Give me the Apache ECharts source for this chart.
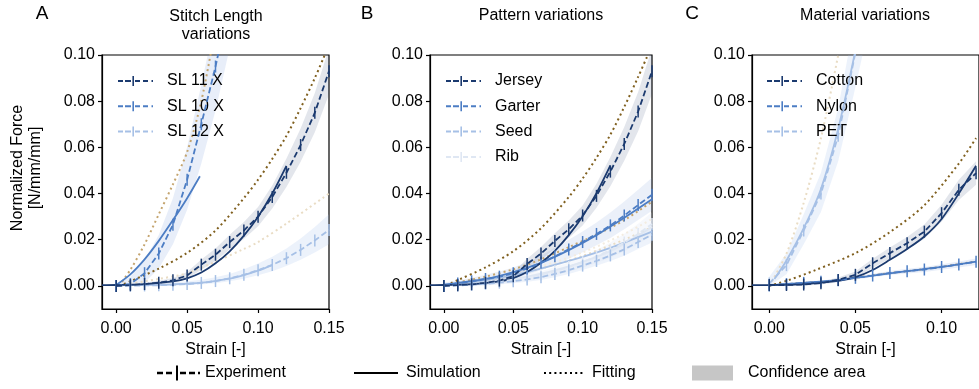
<!DOCTYPE html>
<html>
<head>
<meta charset="utf-8">
<script src="https://cdn.jsdelivr.net/npm/echarts@6/dist/echarts.min.js"></script>
<style>
html,body{margin:0;padding:0;background:#fff;}
#chart{width:979px;height:389px;}
</style>
</head>
<body>
<div id="chart"></div>
<script>
// ---------- axes ----------
const strainTicksAB = [0, 0.05, 0.10, 0.15];
const strainTicksC = [0, 0.05, 0.10];
const forceTicks = [0, 0.02, 0.04, 0.06, 0.08, 0.10];

// ---------- Panel A : Stitch length ----------
const expStrain = [0,0.01,0.02,0.03,0.04,0.05,0.06,0.07,0.08,0.09,0.10,0.11,0.12,0.13,0.14,0.15];
const sl11Exp = [0,0.0003,0.0008,0.0014,0.0024,0.0045,0.0092,0.0135,0.0190,0.0240,0.0300,0.0385,0.0490,0.0610,0.0750,0.0930];
const sl11Lo  = [0,0,0.0002,0.0006,0.0014,0.0030,0.0070,0.0108,0.0158,0.0203,0.0258,0.0335,0.0428,0.0538,0.0665,0.0830];
const sl11Hi  = [0.0006,0.0008,0.0014,0.0022,0.0034,0.0060,0.0114,0.0162,0.0222,0.0277,0.0342,0.0435,0.0552,0.0682,0.0835,0.1030];
const sl11SimX = [-0.01,0,0.02,0.04,0.05,0.06,0.07,0.08,0.09,0.10,0.11,0.12];
const sl11Sim  = [0.0003,0.0004,0.0008,0.0020,0.0033,0.0058,0.0098,0.0150,0.0218,0.0300,0.0400,0.0520];
const sl11FitX = [0.002,0.01,0.03,0.05,0.07,0.09,0.10,0.11,0.12,0.13,0.14,0.147];
const sl11Fit  = [0,0.0020,0.0075,0.0143,0.0240,0.0380,0.0460,0.0550,0.0650,0.0770,0.0900,0.1000];

const sl10ExpX = [0,0.01,0.02,0.03,0.04,0.05,0.06,0.07,0.08];
const sl10Exp  = [0,0.0008,0.0055,0.0140,0.0265,0.0460,0.0700,0.0950,0.1230];
const sl10Lo   = [0,0,0.0015,0.0075,0.0180,0.0330,0.0530,0.0760,0.1030];
const sl10Hi   = [0.0010,0.0040,0.0110,0.0220,0.0380,0.0600,0.0870,0.1160,0.1480];
const sl10SimX = [0,0.01,0.02,0.03,0.04,0.05,0.059];
const sl10Sim  = [0.0004,0.0050,0.0115,0.0195,0.0285,0.0380,0.0475];
const sl10FitX = [0.002,0.01,0.02,0.03,0.04,0.05,0.06,0.07];
const sl10Fit  = [0,0.0070,0.0180,0.0310,0.0440,0.0580,0.0800,0.1120];

const sl12Exp = [0,0.0001,0.0002,0.0003,0.0005,0.0008,0.0013,0.0021,0.0033,0.0048,0.0068,0.0091,0.0120,0.0156,0.0197,0.0242];
const sl12Lo  = [0,0,0,0,0.0001,0.0003,0.0006,0.0011,0.0020,0.0031,0.0046,0.0064,0.0086,0.0113,0.0145,0.0180];
const sl12Hi  = [0.0008,0.0009,0.0011,0.0013,0.0016,0.0020,0.0027,0.0037,0.0052,0.0072,0.0097,0.0126,0.0162,0.0205,0.0255,0.0310];
const sl12SimX = [0,0.02,0.04,0.06,0.08,0.09,0.10,0.11];
const sl12Sim  = [0.0002,0.0004,0.0007,0.0014,0.0032,0.0047,0.0066,0.0090];
const sl12FitX = [0.01,0.03,0.05,0.07,0.09,0.10,0.12,0.15];
const sl12Fit  = [0.0010,0.0030,0.0055,0.0105,0.0160,0.0190,0.0270,0.0400];

// ---------- Panel B : Patterns ----------
const jerseyExp = [0,0.0003,0.0007,0.0013,0.0023,0.0042,0.0095,0.0140,0.0195,0.0245,0.0305,0.0390,0.0495,0.0615,0.0755,0.0930];
const jerseyLo  = [0,0,0.0002,0.0006,0.0013,0.0028,0.0072,0.0112,0.0162,0.0207,0.0262,0.0338,0.0432,0.0542,0.0670,0.0832];
const jerseyHi  = [0.0006,0.0008,0.0013,0.0021,0.0033,0.0058,0.0118,0.0168,0.0228,0.0283,0.0348,0.0442,0.0558,0.0688,0.0840,0.1030];
const jerseySimX = [-0.01,0,0.02,0.04,0.05,0.06,0.07,0.08,0.09,0.10,0.11,0.12];
const jerseySim  = [0.0003,0.0004,0.0008,0.0020,0.0034,0.0060,0.0100,0.0152,0.0220,0.0302,0.0402,0.0522];
const jerseyFitX = [0.005,0.01,0.03,0.05,0.07,0.09,0.10,0.11,0.12,0.13,0.14,0.147];
const jerseyFit  = [0.0012,0.0025,0.0080,0.0150,0.0250,0.0385,0.0465,0.0555,0.0655,0.0775,0.0905,0.1000];

const garterExp = [0,0.0010,0.0020,0.0030,0.0040,0.0055,0.0075,0.0100,0.0128,0.0158,0.0190,0.0225,0.0262,0.0305,0.0350,0.0395];
const garterLo  = [0,0,0.0005,0.0012,0.0020,0.0032,0.0048,0.0068,0.0092,0.0118,0.0146,0.0176,0.0208,0.0245,0.0285,0.0325];
const garterHi  = [0.0015,0.0022,0.0035,0.0048,0.0062,0.0080,0.0103,0.0132,0.0165,0.0200,0.0236,0.0275,0.0318,0.0366,0.0416,0.0468];
const garterSimX = [0,0.03,0.05,0.07,0.09,0.11,0.13,0.15];
const garterSim  = [0.0005,0.0030,0.0060,0.0100,0.0155,0.0220,0.0295,0.0375];
const garterFitX = [0.01,0.03,0.05,0.07,0.09,0.11,0.13,0.15];
const garterFit  = [0.0015,0.0040,0.0072,0.0115,0.0168,0.0222,0.0285,0.0365];

const seedExp = [0,0.0002,0.0005,0.0009,0.0014,0.0020,0.0028,0.0038,0.0052,0.0068,0.0088,0.0108,0.0132,0.0158,0.0190,0.0222];
const seedLo  = [0,0,0,0.0002,0.0006,0.0011,0.0018,0.0026,0.0038,0.0052,0.0069,0.0087,0.0108,0.0131,0.0160,0.0188];
const seedHi  = [0.0010,0.0012,0.0015,0.0019,0.0024,0.0031,0.0040,0.0052,0.0068,0.0086,0.0108,0.0131,0.0158,0.0188,0.0224,0.0262];
const seedSimX = [0,0.03,0.06,0.09,0.12,0.15];
const seedSim  = [0.0003,0.0025,0.0060,0.0108,0.0165,0.0235];
const seedFitX = [0.01,0.04,0.07,0.10,0.13,0.15];
const seedFit  = [0.0010,0.0035,0.0075,0.0130,0.0200,0.0255];

const ribExp = [0,0.0003,0.0007,0.0012,0.0019,0.0027,0.0037,0.0049,0.0064,0.0082,0.0103,0.0127,0.0155,0.0188,0.0225,0.0268];
const ribLo  = [0,0,0.0002,0.0005,0.0010,0.0016,0.0024,0.0034,0.0046,0.0061,0.0079,0.0099,0.0122,0.0150,0.0181,0.0217];
const ribHi  = [0.0009,0.0011,0.0015,0.0020,0.0028,0.0038,0.0050,0.0064,0.0082,0.0103,0.0127,0.0155,0.0188,0.0226,0.0269,0.0319];
const ribSimX = [0,0.03,0.06,0.09,0.12,0.15];
const ribSim  = [0.0003,0.0016,0.0040,0.0085,0.0150,0.0255];
const ribFitX = [0.01,0.04,0.07,0.10,0.13,0.15];
const ribFit  = [0.0012,0.0040,0.0085,0.0145,0.0225,0.0290];

// ---------- Panel C : Materials ----------
const matStrain = [0,0.01,0.02,0.03,0.04,0.05,0.06,0.07,0.08,0.09,0.10,0.11,0.12];
const cottonExp = [0.0004,0.0004,0.0006,0.0012,0.0026,0.0048,0.0098,0.0142,0.0185,0.0235,0.0315,0.0416,0.0488];
const cottonLo  = [0,0,0.0001,0.0006,0.0016,0.0034,0.0078,0.0118,0.0158,0.0204,0.0278,0.0372,0.0438];
const cottonHi  = [0.0010,0.0010,0.0012,0.0019,0.0036,0.0062,0.0118,0.0166,0.0212,0.0266,0.0352,0.0460,0.0540];
const cottonSimX = [-0.01,0,0.02,0.04,0.05,0.06,0.07,0.08,0.09,0.10,0.11,0.12];
const cottonSim  = [0.0003,0.0004,0.0008,0.0022,0.0038,0.0069,0.0113,0.0160,0.0214,0.0290,0.0400,0.0520];
const cottonFitX = [0,0.01,0.027,0.05,0.07,0.09,0.11,0.12];
const cottonFit  = [0,0.0022,0.0069,0.0142,0.0233,0.0350,0.0530,0.0640];

const nylonExp = [0.0002,0.0008,0.0013,0.0018,0.0025,0.0035,0.0045,0.0056,0.0064,0.0071,0.0082,0.0093,0.0105];
const nylonLo  = [0,0.0004,0.0009,0.0013,0.0019,0.0028,0.0037,0.0047,0.0054,0.0060,0.0070,0.0080,0.0091];
const nylonHi  = [0.0006,0.0012,0.0017,0.0023,0.0031,0.0042,0.0053,0.0065,0.0074,0.0082,0.0094,0.0106,0.0119];
const nylonSimX = [0,0.02,0.04,0.06,0.08,0.10,0.12];
const nylonSim  = [0.0002,0.0013,0.0025,0.0045,0.0064,0.0082,0.0105];
const nylonFitX = [0,0.02,0.04,0.06,0.08,0.10,0.12];
const nylonFit  = [0.0002,0.0013,0.0025,0.0046,0.0064,0.0083,0.0106];

const petExpX = [0,0.01,0.02,0.03,0.04,0.05,0.06];
const petExp  = [0.0010,0.0090,0.0240,0.0400,0.0650,0.1010,0.1400];
const petLo   = [0,0.0050,0.0180,0.0320,0.0540,0.0860,0.1200];
const petHi   = [0.0040,0.0140,0.0310,0.0490,0.0770,0.1170,0.1600];
const petSimX = [0.003,0.01,0.02,0.03,0.04,0.05,0.06];
const petSim  = [0.0030,0.0110,0.0250,0.0420,0.0680,0.1020,0.1400];
const petFitX = [0,0.01,0.02,0.03,0.04,0.05];
const petFit  = [0,0.0140,0.0360,0.0640,0.1000,0.1400];

// ---------- style constants ----------
const FONT = 'Liberation Sans, Arial, Helvetica, sans-serif';
const FS = 16;
const DARK = '#1b3a6f', MID = '#4c7dc4', LIGHT = '#a6c0e6', PALE = '#dfe7f3';
const FIT1 = '#80601f', FIT2 = '#c4a46e', FIT3 = '#e9dcc4', FIT4 = '#f3ece0';

function pairs(xs, ys) { return xs.map((x, i) => [x, ys[i]]); }
function bandRows(xs, lo, hi) { return xs.map((x, i) => [x, lo[i], hi[i]]); }

const panels = [
  { grid: 0, entries: [
    { name: 'SL 11 X', color: DARK, fit: FIT1, band: 'rgba(40,60,110,0.13)', ex: expStrain, ey: sl11Exp, lo: sl11Lo, hi: sl11Hi, sx: sl11SimX, sy: sl11Sim, fx: sl11FitX, fy: sl11Fit },
    { name: 'SL 10 X', color: MID, fit: FIT2, band: 'rgba(110,150,215,0.16)', ex: sl10ExpX, ey: sl10Exp, lo: sl10Lo, hi: sl10Hi, sx: sl10SimX, sy: sl10Sim, fx: sl10FitX, fy: sl10Fit },
    { name: 'SL 12 X', color: LIGHT, fit: FIT3, band: 'rgba(160,190,235,0.2)', ex: expStrain, ey: sl12Exp, lo: sl12Lo, hi: sl12Hi, sx: sl12SimX, sy: sl12Sim, fx: sl12FitX, fy: sl12Fit }
  ]},
  { grid: 1, entries: [
    { name: 'Jersey', color: DARK, fit: FIT1, band: 'rgba(40,60,110,0.13)', ex: expStrain, ey: jerseyExp, lo: jerseyLo, hi: jerseyHi, sx: jerseySimX, sy: jerseySim, fx: jerseyFitX, fy: jerseyFit },
    { name: 'Garter', color: MID, fit: FIT2, band: 'rgba(110,150,215,0.14)', ex: expStrain, ey: garterExp, lo: garterLo, hi: garterHi, sx: garterSimX, sy: garterSim, fx: garterFitX, fy: garterFit },
    { name: 'Seed', color: LIGHT, fit: FIT3, band: 'rgba(160,190,235,0.18)', ex: expStrain, ey: seedExp, lo: seedLo, hi: seedHi, sx: seedSimX, sy: seedSim, fx: seedFitX, fy: seedFit },
    { name: 'Rib', color: PALE, fit: FIT4, band: 'rgba(210,222,240,0.2)', ex: expStrain, ey: ribExp, lo: ribLo, hi: ribHi, sx: ribSimX, sy: ribSim, fx: ribFitX, fy: ribFit }
  ]},
  { grid: 2, entries: [
    { name: 'Cotton', color: DARK, fit: FIT1, band: 'rgba(40,60,110,0.13)', ex: matStrain, ey: cottonExp, lo: cottonLo, hi: cottonHi, sx: cottonSimX, sy: cottonSim, fx: cottonFitX, fy: cottonFit },
    { name: 'Nylon', color: MID, fit: FIT2, band: 'rgba(110,150,215,0.16)', ex: matStrain, ey: nylonExp, lo: nylonLo, hi: nylonHi, sx: nylonSimX, sy: nylonSim, fx: nylonFitX, fy: nylonFit },
    { name: 'PET', color: LIGHT, fit: FIT3, band: 'rgba(160,190,235,0.2)', ex: petExpX, ey: petExp, lo: petLo, hi: petHi, sx: petSimX, sy: petSim, fx: petFitX, fy: petFit }
  ]}
];

const grids = [
  { left: 102, top: 55, width: 227, height: 254 },
  { left: 430, top: 55, width: 222, height: 254 },
  { left: 752, top: 55, width: 230, height: 254 }
];
const xMax = [0.15, 0.15, 0.1217];
const xTicks = [strainTicksAB, strainTicksAB, strainTicksC];

const axisLineStyle = { color: '#000', width: 1.2 };
const xAxes = grids.map((g, i) => ({
  type: 'value', gridIndex: i, min: -0.01, max: xMax[i],
  name: 'Strain [-]', nameLocation: 'middle', nameGap: 33,
  nameTextStyle: { fontFamily: FONT, fontSize: FS, color: '#000' },
  axisLine: { show: true, onZero: false, lineStyle: axisLineStyle },
  axisTick: { show: true, length: 4, lineStyle: axisLineStyle, customValues: xTicks[i] },
  axisLabel: { show: true, margin: 12, fontFamily: FONT, fontSize: FS, color: '#000',
    customValues: xTicks[i], formatter: v => v.toFixed(2) },
  splitLine: { show: false }
}));
const yAxes = grids.map((g, i) => ({
  type: 'value', gridIndex: i, min: -0.01, max: 0.10,
  axisLine: { show: true, onZero: false, lineStyle: axisLineStyle },
  axisTick: { show: true, length: 4, lineStyle: axisLineStyle, customValues: forceTicks },
  axisLabel: { show: true, margin: 7, fontFamily: FONT, fontSize: FS, color: '#000',
    customValues: forceTicks, formatter: v => v.toFixed(2) },
  splitLine: { show: false }
}));

const EXP_ICON = 'path://M0,4h5v2h-5z M7,4h6v2h-6z M14.4,0h1.6v10h-1.6z M17,4h5v2h-5z M25,4h5v2h-5z M33.5,4h1.5v2h-1.5z';
const EXP_ICON_BIG = 'path://M0,6.3h6v2.4h-6z M9,6.3h6v2.4h-6z M19,0h2v15h-2z M23,6.3h6v2.4h-6z M32,6.3h6v2.4h-6z M41,6.3h2v2.4h-2z';

const series = [];
// confidence bands first
panels.forEach(p => p.entries.forEach(e => {
  series.push({
    type: 'custom', xAxisIndex: p.grid, yAxisIndex: p.grid, silent: true, z: 1,
    data: bandRows(e.ex, e.lo, e.hi),
    renderItem: (params, api) => {
      if (params.dataIndex !== 0) return null;
      const rows = bandRows(e.ex, e.lo, e.hi);
      const upper = rows.map(r => api.coord([r[0], r[2]]));
      const lower = rows.slice().reverse().map(r => api.coord([r[0], r[1]]));
      const cs = params.coordSys;
      return { type: 'polygon', shape: { points: upper.concat(lower) },
        style: { fill: e.band, stroke: null },
        clipPath: { type: 'rect', shape: { x: cs.x, y: cs.y, width: cs.width, height: cs.height } } };
    }
  });
}));
// fitting
panels.forEach(p => p.entries.slice().reverse().forEach(e => {
  series.push({ type: 'line', name: e.name + ' fit', xAxisIndex: p.grid, yAxisIndex: p.grid, z: 2,
    data: pairs(e.fx, e.fy), smooth: 0.3, symbol: 'none', silent: true,
    lineStyle: { color: e.fit, width: 2, type: [2, 3.2] } });
}));
// simulation
panels.forEach(p => p.entries.slice().reverse().forEach(e => {
  series.push({ type: 'line', name: e.name + ' sim', xAxisIndex: p.grid, yAxisIndex: p.grid, z: 3,
    data: pairs(e.sx, e.sy), smooth: 0.3, symbol: 'none', silent: true,
    lineStyle: { color: e.color, width: 1.8 } });
}));
// experiment
panels.forEach(p => p.entries.slice().reverse().forEach(e => {
  series.push({ type: 'line', name: e.name, xAxisIndex: p.grid, yAxisIndex: p.grid, z: 4,
    data: pairs(e.ex, e.ey), symbol: 'rect', symbolSize: [1.5, 12], showAllSymbol: true, silent: true,
    itemStyle: { color: e.color }, lineStyle: { color: e.color, width: 1.8, type: [6, 3] } });
}));
// dummy series for the shared legend
series.push({ type: 'line', name: 'Experiment', data: [], itemStyle: { color: '#000' }, lineStyle: { color: '#000' } });
series.push({ type: 'line', name: 'Simulation', data: [], symbol: 'none', itemStyle: { color: '#000' }, lineStyle: { color: '#000', width: 2 } });
series.push({ type: 'line', name: 'Fitting', data: [], symbol: 'none', itemStyle: { color: '#000' }, lineStyle: { color: '#000', width: 2, type: [2, 3.2] } });
series.push({ type: 'line', name: 'Confidence area', data: [], itemStyle: { color: '#c6c6c6' } });

const legTxt = { fontFamily: FONT, fontSize: FS, color: '#000' };
const panelLegend = (names, left) => ({
  orient: 'vertical', left: left, top: 73, padding: 0, itemWidth: 35, itemHeight: 10, itemGap: 9.3,
  icon: EXP_ICON, selectedMode: false, data: names,
  textStyle: Object.assign({ padding: [0, 0, 0, 9], lineHeight: 16 }, legTxt)
});
const bottomLegend = (name, left, w, icon, pad, hideSymbol) => {
  const l = {
    left: left, top: 365, padding: 0, itemWidth: w, itemHeight: 15, selectedMode: false,
    data: [icon ? { name: name, icon: icon } : name],
    textStyle: Object.assign({ padding: [0, 0, 0, pad] }, legTxt)
  };
  if (hideSymbol) l.itemStyle = { opacity: 0 };
  return l;
};

const option = {
  animation: false,
  backgroundColor: '#fff',
  grid: grids.map(g => Object.assign({ show: true, borderColor: '#000', borderWidth: 1.2, backgroundColor: 'transparent' }, g)),
  xAxis: xAxes,
  yAxis: yAxes,
  legend: [
    panelLegend(['SL 11 X', 'SL 10 X', 'SL 12 X'], 118),
    panelLegend(['Jersey', 'Garter', 'Seed', 'Rib'], 446),
    panelLegend(['Cotton', 'Nylon', 'PET'], 767),
    bottomLegend('Experiment', 157, 43, EXP_ICON_BIG, 0, false),
    bottomLegend('Simulation', 353, 44, null, 3, true),
    bottomLegend('Fitting', 543, 40, null, 3, true),
    bottomLegend('Confidence area', 692, 41, 'rect', 10, false)
  ],
  graphic: [
    { type: 'text', x: 42, y: 14, style: { text: 'A', font: '19px ' + FONT, fill: '#000', align: 'center', verticalAlign: 'middle' } },
    { type: 'text', x: 367, y: 14, style: { text: 'B', font: '19px ' + FONT, fill: '#000', align: 'center', verticalAlign: 'middle' } },
    { type: 'text', x: 692, y: 14, style: { text: 'C', font: '19px ' + FONT, fill: '#000', align: 'center', verticalAlign: 'middle' } },
    { type: 'text', x: 216, y: 26, style: { text: 'Stitch Length\nvariations', font: FS + 'px ' + FONT, lineHeight: 18, fill: '#000', align: 'center', verticalAlign: 'middle' } },
    { type: 'text', x: 541, y: 16, style: { text: 'Pattern variations', font: FS + 'px ' + FONT, fill: '#000', align: 'center', verticalAlign: 'middle' } },
    { type: 'text', x: 865, y: 16, style: { text: 'Material variations', font: FS + 'px ' + FONT, fill: '#000', align: 'center', verticalAlign: 'middle' } },
    { type: 'text', x: 27, y: 168, rotation: Math.PI / 2, style: { text: 'Normalized Force\n[N/mm/mm]', font: FS + 'px ' + FONT, lineHeight: 18, fill: '#000', align: 'center', verticalAlign: 'middle' } }
  ],
  series: series
};

const chart = echarts.init(document.getElementById('chart'), null, { renderer: 'canvas' });
chart.setOption(option);
</script>
</body>
</html>
